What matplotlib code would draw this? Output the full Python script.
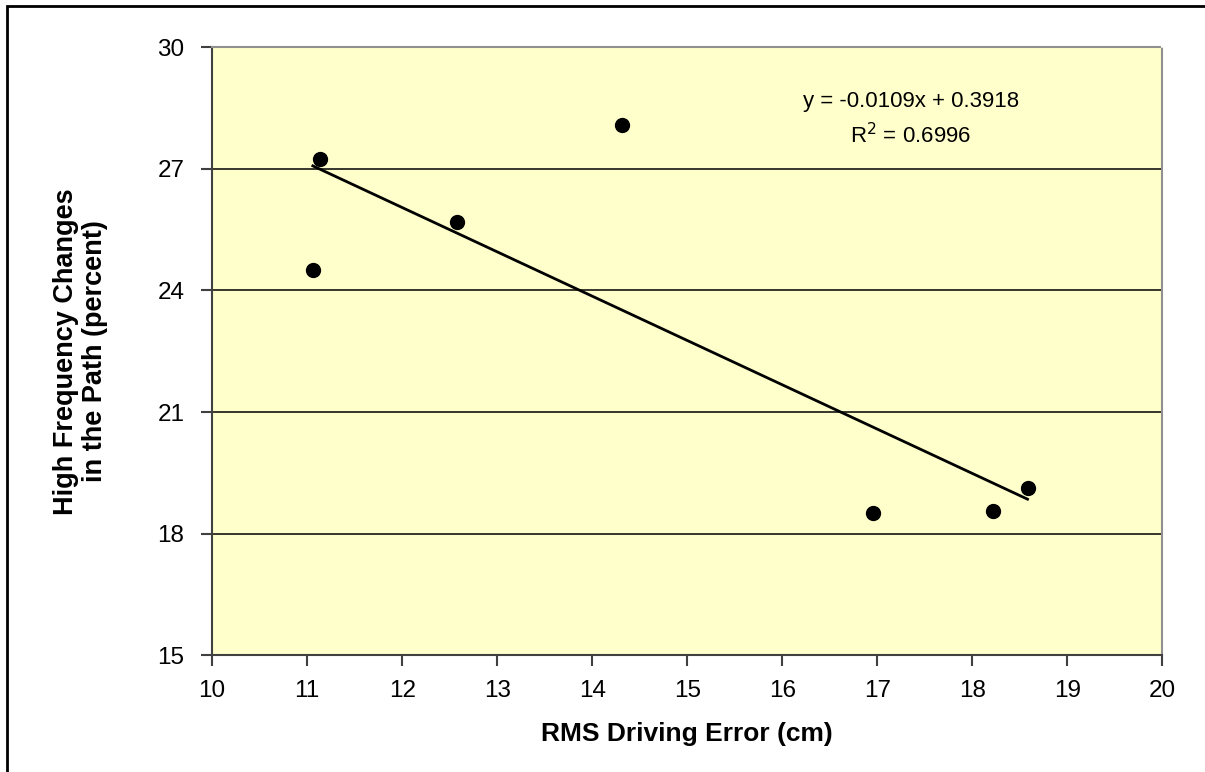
import numpy as np
import matplotlib
matplotlib.use("Agg")
import matplotlib.pyplot as plt
from matplotlib.patches import Rectangle

rms_error = [11.06, 11.14, 12.58, 14.31, 16.95, 18.22, 18.58]
hf_changes = [24.50, 27.24, 25.68, 28.09, 18.52, 18.55, 19.14]
x_ticks = [10, 11, 12, 13, 14, 15, 16, 17, 18, 19, 20]
y_ticks = [15, 18, 21, 24, 27, 30]
eq_text = "y = -0.0109x + 0.3918"
r2_text = "R$^2$ = 0.6996"

plt.rcParams['font.family'] = ['Liberation Sans', 'DejaVu Sans']

fig = plt.figure(figsize=(12.05, 7.72), dpi=100)
ax = fig.add_axes([0.176, 0.151, 0.7887, 0.788])
ax.set_facecolor('#FFFFCC')

for y in y_ticks[1:-1]:
    ax.axhline(y, color='black', lw=1.1, zorder=1)

slope, intercept = np.polyfit(rms_error, hf_changes, 1)
xs = np.array([min(rms_error), max(rms_error)])
ax.plot(xs, slope * xs + intercept, color='black', lw=2, zorder=2)
ax.plot(rms_error, hf_changes, 'o', color='black', ms=10, zorder=3)

ax.set_xlim(10, 20)
ax.set_ylim(15, 30)
ax.set_xticks(x_ticks)
ax.set_yticks(y_ticks)
ax.tick_params(axis='both', labelsize=17.5, length=8, width=1.5, color='#404040', direction='out')
ax.tick_params(axis='x', pad=10)
ax.tick_params(axis='y', pad=12)

for s in ['left', 'bottom']:
    ax.spines[s].set_color('#404040')
    ax.spines[s].set_linewidth(1.5)
for s in ['top', 'right']:
    ax.spines[s].set_color('#909090')
    ax.spines[s].set_linewidth(1.5)
    ax.spines[s].set_linestyle((0, (1, 1)))

ax.set_xlabel('RMS Driving Error (cm)', fontsize=19, fontweight='bold', labelpad=14)
fig.text(0.067, 0.545, 'High Frequency Changes\nin the Path (percent)', rotation=90,
         fontsize=19.5, fontweight='bold', ha='center', va='center', linespacing=1.15)

fig.text(911 / 1205, 1 - 102 / 772, eq_text, fontsize=16, ha='center', va='center')
fig.text(911 / 1205, 1 - 136 / 772, r2_text, fontsize=16, ha='center', va='center')

fig.patches.append(Rectangle((7 / 1205, -0.1), 1.2, 1 - 6 / 772 + 0.1, transform=fig.transFigure,
                             fill=False, edgecolor='black', lw=2))

fig.savefig('out.png', dpi=100)
